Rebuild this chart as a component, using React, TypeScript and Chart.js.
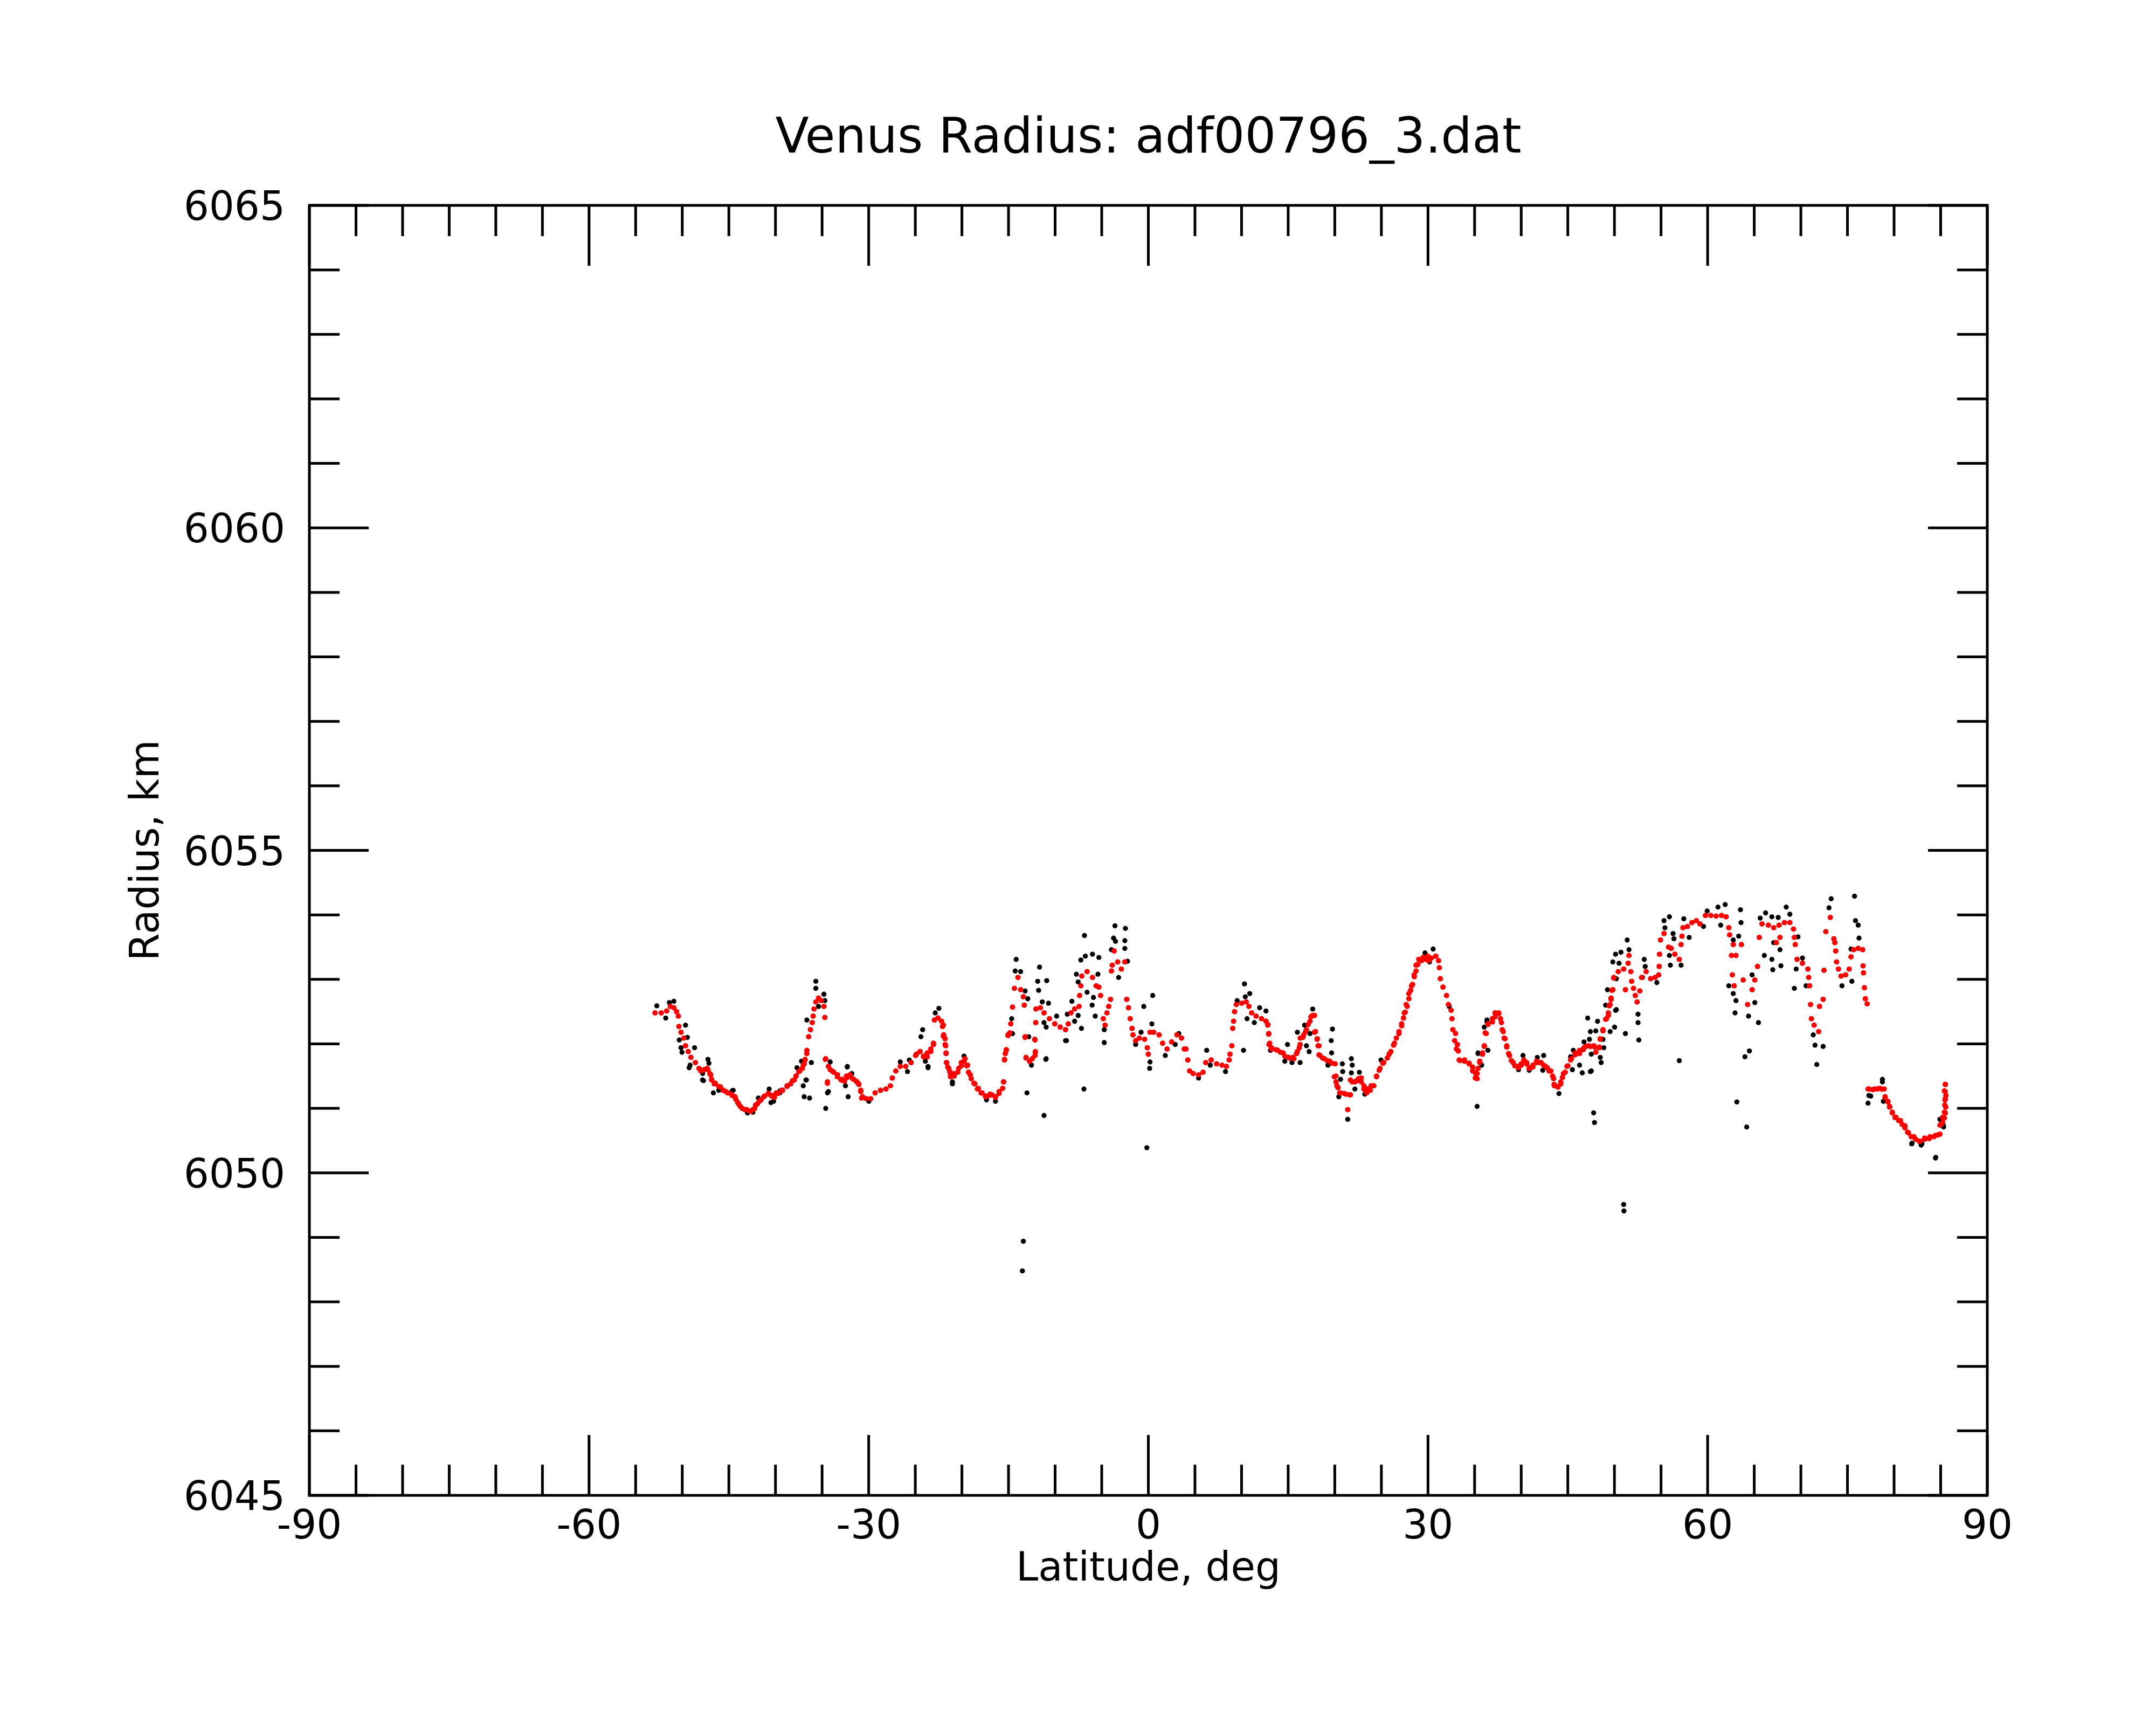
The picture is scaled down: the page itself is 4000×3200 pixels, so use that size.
import React, { useEffect, useRef } from 'react';
import { Chart, registerables } from 'chart.js';

Chart.register(...registerables);

const titleText = 'Venus Radius: adf00796_3.dat';
const xAxisLabel = 'Latitude, deg';
const yAxisLabel = 'Radius, km';
const xTickLabels = [-90, -60, -30, 0, 30, 60, 90];
const yTickLabels = [6045, 6050, 6055, 6060, 6065];

// smoothed profile (red), coarse reading over the whole track
const smoothLat = [
  -52.92, -52.25, -51.67, -51.28, -50.9, -50.61, -50.42, -50.36, -50.13, -49.84, -49.65, -49.36, -49.07, -48.59, -48.2,
  -47.81, -47.33, -47.04, -46.85, -46.46, -45.89, -45.31, -44.73, -44.34, -44.05, -43.77, -43.28, -42.8, -42.42, -42.13,
  -41.74, -41.26, -40.68, -40.3, -39.91, -39.33, -38.75, -38.17, -37.79, -37.4, -37.02, -36.83, -36.63, -36.44, -36.25,
  -36.05, -35.96, -35.86, -35.67, -35.38, -35.09, -34.8, -34.7, -34.61, -34.42, -34.32, -33.93, -33.35, -32.87, -32.39,
  -32.01, -31.62, -31.14, -30.85, -30.66, -30.27, -29.79, -29.31, -28.73, -28.15, -27.67, -27.47, -27.09, -26.61, -26.03,
  -25.45, -24.97,
  -24.49, -24.11, -23.72, -23.34, -23.05, -22.95, -22.57, -22.18, -21.99, -21.95, -21.8, -21.7, -21.66, -21.41, -21.22,
  -20.83, -20.35, -20.06, -19.67, -19.39, -19.1, -18.71, -18.33, -17.94, -17.46, -16.98, -16.4, -16.01, -15.53, -15.43,
  -15.24, -15.05, -14.76, -14.57, -14.37, -13.99, -13.7, -13.41, -13.31, -13.22, -13.12, -12.73, -12.16, -12.12, -12.19,
  -12.08, -12.06, -11.58, -11.19, -10.61, -10.04, -9.46, -8.88, -8.59, -8.3, -7.91, -7.43, -7.37, -7.24, -7.14,
  -6.57, -5.99, -5.6, -5.31, -5.12, -4.83, -4.64, -4.44, -4.25, -4.06, -3.96, -3.87, -3.67, -3.29, -2.9,
  -2.52, -2.32, -2.13, -1.94, -1.75, -1.65, -1.36, -0.97, -0.4, -0.11, -0.01, 0.18, 0.57, 1.15, 1.53,
  2.01, 2.5, 3.07, 3.56, 3.85,
  4.04, 4.23, 4.43, 4.81, 5.39, 5.87, 6.16, 6.74, 7.32, 7.9, 8.38, 8.67, 8.76, 8.96, 9.05,
  9.15, 9.25, 9.44, 10.02, 10.5, 10.79, 11.08, 11.56, 12.14, 12.62, 12.81, 12.91, 13.02, 13.2, 13.87,
  14.45, 15.03, 15.51, 15.99, 16.28, 16.67, 16.96, 17.34, 17.63, 17.82, 18.11, 18.31, 18.4, 18.88, 19.46,
  20.04, 20.12, 20.23, 20.62, 21.2, 21.39, 21.68, 21.87, 22.35, 22.84, 23.13, 23.51, 23.9, 24.48, 24.86,
  25.25, 25.83, 26.4, 26.89, 27.17, 27.46, 27.66, 27.95, 28.24, 28.52, 28.72, 29.01, 29.49, 29.97, 30.36,
  30.84, 31.13, 31.22, 31.32, 31.61, 31.99, 32.19, 32.48, 32.57, 32.67, 32.86, 33.05,
  33.35, 33.92, 34.41, 34.79, 35.08, 35.27, 35.56, 35.85, 36.04, 36.24, 36.43, 36.91, 37.2, 37.59, 37.78,
  37.97, 38.17, 38.45, 38.74, 39.13, 39.61, 40.0, 40.29, 40.58, 40.86, 41.25, 41.64, 42.12, 42.6, 42.99,
  43.37, 43.56, 43.95, 44.24, 44.53, 44.91, 45.3, 45.78, 46.26, 46.74, 47.23, 47.8, 48.38, 48.48, 48.77,
  49.15, 49.35, 49.54, 49.64, 49.83, 49.93, 50.41, 50.99, 51.18, 51.47, 51.56, 51.76, 51.85, 52.05, 52.24,
  52.43, 52.72, 52.91, 53.4, 53.88, 54.36, 54.75, 54.8, 54.84, 54.94, 55.32, 55.81, 56.09, 56.48, 56.96,
  57.15, 57.25, 57.35, 57.83, 58.31, 58.79, 59.18, 59.76, 60.34, 60.91, 61.49,
  61.98, 62.27, 62.36, 62.75, 63.62, 62.55, 63.04, 62.65, 62.84, 63.81, 64.29, 64.77, 65.06, 65.35, 65.54,
  65.83, 66.51, 67.09, 67.66, 68.24, 68.82, 69.21, 69.3, 67.76, 67.37, 69.4, 69.59, 70.17, 70.75, 70.84,
  70.94, 71.04, 71.13, 71.42, 71.91, 72.0, 72.39, 72.48, 72.68, 73.16, 73.54, 73.64, 73.74, 73.83, 74.03,
  74.31, 74.8, 75.18, 75.38, 75.66, 76.15, 76.63, 76.67, 76.72, 76.82, 76.92, 77.11,
  77.3, 77.88, 78.46, 78.94, 79.04, 79.33, 79.52, 79.81, 80.2, 80.68, 81.16, 81.54, 82.12, 82.7, 83.28,
  83.86, 84.44, 84.92, 85.01, 85.21, 85.4, 85.44, 85.5, 85.48, 85.5,
];

const smoothRadius = [
  6052.48, 6052.48, 6052.51, 6052.58, 6052.56, 6052.5, 6052.43, 6052.27, 6052.18, 6052.09, 6051.97, 6051.88, 6051.79, 6051.71, 6051.62,
  6051.59, 6051.62, 6051.54, 6051.45, 6051.39, 6051.33, 6051.26, 6051.22, 6051.18, 6051.09, 6051.03, 6050.98, 6050.96, 6050.98, 6051.05,
  6051.11, 6051.18, 6051.22, 6051.2, 6051.24, 6051.28, 6051.35, 6051.43, 6051.5, 6051.58, 6051.67, 6051.75, 6051.9, 6052.11, 6052.22,
  6052.33, 6052.43, 6052.54, 6052.65, 6052.71, 6052.67, 6052.58, 6052.41, 6051.77, 6051.41, 6051.65, 6051.58, 6051.52, 6051.45, 6051.5,
  6051.52, 6051.45, 6051.39, 6051.28, 6051.18, 6051.15, 6051.15, 6051.24, 6051.28, 6051.3, 6051.35, 6051.47, 6051.58, 6051.65, 6051.65,
  6051.71, 6051.82,
  6051.88, 6051.8, 6051.86, 6051.92, 6052.01, 6052.37, 6052.4, 6052.35, 6052.29, 6052.14, 6051.99, 6051.86, 6051.71, 6051.62, 6051.52,
  6051.54, 6051.62, 6051.71, 6051.77, 6051.67, 6051.52, 6051.39, 6051.3, 6051.24, 6051.19, 6051.22, 6051.18, 6051.26, 6051.41, 6051.75,
  6051.9, 6052.14, 6052.31, 6052.57, 6052.86, 6053.03, 6052.84, 6052.73, 6052.6, 6052.11, 6051.79, 6051.73, 6051.82, 6051.88, 6052.07,
  6052.33, 6052.54, 6052.56, 6052.48, 6052.39, 6052.31, 6052.26, 6052.22, 6052.31, 6052.48, 6052.54, 6052.58, 6052.75, 6052.9, 6053.05,
  6053.12, 6053.03, 6052.9, 6052.88, 6052.75, 6052.39, 6052.29, 6052.48, 6052.58, 6052.69, 6053.13, 6053.22, 6053.44, 6053.27, 6053.16,
  6053.27, 6052.69, 6052.56, 6052.39, 6052.24, 6052.14, 6052.05, 6052.09, 6052.07, 6051.94, 6051.84, 6052.18, 6052.18, 6052.14, 6052.01,
  6051.92, 6052.03, 6052.14, 6052.09, 6051.92,
  6051.92, 6051.75, 6051.58, 6051.54, 6051.52, 6051.56, 6051.71, 6051.75, 6051.69, 6051.67, 6051.65, 6051.75, 6051.84, 6051.97, 6052.24,
  6052.35, 6052.5, 6052.61, 6052.63, 6052.65, 6052.58, 6052.48, 6052.43, 6052.39, 6052.35, 6052.29, 6052.16, 6052.01, 6051.92, 6051.9,
  6051.86, 6051.79, 6051.79, 6051.88, 6051.99, 6052.14, 6052.22, 6052.35, 6052.44, 6052.18, 6052.07, 6051.97, 6051.82, 6051.77, 6051.73,
  6051.69, 6051.5, 6051.35, 6051.24, 6051.22, 6050.98, 6051.21, 6051.41, 6051.43, 6051.47, 6051.35, 6051.3, 6051.35, 6051.5, 6051.62,
  6051.71, 6051.84, 6052.01, 6052.16, 6052.31, 6052.48, 6052.61, 6052.78, 6052.9, 6053.07, 6053.22, 6053.31, 6053.34, 6053.36, 6053.33,
  6053.36, 6053.29, 6053.18, 6053.01, 6052.88, 6052.75, 6052.61, 6052.52, 6052.39, 6052.22, 6052.05, 6051.92,
  6051.75, 6051.75, 6051.69, 6051.58, 6051.47, 6051.54, 6051.71, 6051.86, 6051.97, 6052.16, 6052.31, 6052.39, 6052.48, 6052.48, 6052.39,
  6052.22, 6052.09, 6051.97, 6051.82, 6051.71, 6051.65, 6051.69, 6051.75, 6051.71, 6051.62, 6051.67, 6051.73, 6051.71, 6051.65, 6051.58,
  6051.5, 6051.35, 6051.33, 6051.41, 6051.54, 6051.65, 6051.75, 6051.86, 6051.9, 6051.94, 6051.97, 6051.97, 6051.94, 6052.07, 6052.22,
  6052.39, 6052.48, 6052.61, 6052.71, 6052.84, 6053.03, 6053.12, 6053.16, 6052.84, 6053.25, 6053.37, 6053.12, 6052.97, 6052.86, 6052.75,
  6052.65, 6052.82, 6053.03, 6053.12, 6053.01, 6053.03, 6053.07, 6053.2, 6053.39, 6053.61, 6053.71, 6053.5, 6053.48, 6053.39, 6053.31,
  6053.54, 6053.67, 6053.8, 6053.82, 6053.88, 6053.91, 6053.86, 6053.99, 6053.99, 6053.98, 6053.99,
  6053.97, 6053.8, 6053.69, 6053.54, 6053.54, 6053.37, 6053.37, 6053.07, 6052.9, 6052.99, 6052.61, 6052.84, 6052.99, 6053.2, 6053.65,
  6053.86, 6053.84, 6053.8, 6053.84, 6053.88, 6053.88, 6053.78, 6053.65, 6053.65, 6053.57, 6053.54, 6053.31, 6053.25, 6053.16, 6053.03,
  6052.9, 6052.61, 6052.39, 6052.29, 6052.19, 6052.58, 6052.69, 6053.14, 6053.74, 6053.96, 6053.63, 6053.57, 6053.44, 6053.27, 6053.16,
  6053.05, 6053.07, 6053.16, 6053.35, 6053.46, 6053.48, 6053.46, 6053.21, 6053.1, 6052.87, 6052.7, 6052.62,
  6051.3, 6051.3, 6051.31, 6051.3, 6051.18, 6051.11, 6051.03, 6050.94, 6050.86, 6050.81, 6050.73, 6050.62, 6050.56, 6050.49, 6050.54,
  6050.56, 6050.58, 6050.6, 6050.75, 6050.86, 6050.94, 6051.05, 6051.15, 6051.26, 6051.37,
];

// smoothed profile (red), finer reading of the quieter stretches
const smoothLatDetail = [
  -48.01, -47.62, -47.24, -46.95, -46.85, -46.56, -46.08, -45.6, -45.12, -44.64, -44.25, -43.96, -43.58, -43.09, -42.61,
  -42.23, -41.94, -41.55, -41.17, -40.78, -40.4, -40.11, -39.72, -39.24, -38.76, -38.37, -37.98, -37.79, -37.5, -37.12,
  -36.92, -36.83, -36.64, -34.65, -34.42, -34.13, -33.74, -33.36, -32.97, -32.59, -32.3, -32.01, -31.72, -31.33, -31.05,
  -30.85, -30.76,
  -24.88, -24.49, -24.11, -23.72, -23.34, -23.05, -22.08, -21.99, -21.8, -21.74, -21.7, -21.64, -21.51, -21.31, -21.22,
  -20.83, -20.45, -20.06, -19.77, -19.48, -19.29, -19.0, -18.61, -18.23, -17.84, -17.46, -17.07, -16.78, -16.4, -16.01,
  -15.63, -15.53, -15.43, -15.34, -15.24, -15.05, -14.86, -13.22, -12.16, -12.12, -13.12, -12.73, -12.45,
  12.82, 12.91, 12.95, 13.2, 13.68, 14.17, 14.65, 15.13, 15.61, 15.9, 16.19, 16.29, 16.58, 16.87, 17.15,
  17.44, 17.83, 17.93, 18.12, 18.21, 18.31, 18.7, 19.18, 19.66, 19.95, 20.14, 20.34, 20.53, 21.01, 21.59,
  21.68, 22.17, 22.55, 22.84, 23.13, 23.42, 23.81, 24.19, 24.48, 24.77, 25.15, 25.64, 26.02, 26.31, 26.6,
  26.89, 27.18, 27.37, 27.56, 27.76, 27.95, 28.14, 28.34, 28.53, 28.72, 28.91, 29.3, 29.78, 30.07,
  32.96, 33.15, 33.25, 33.44, 33.92, 34.41, 34.79, 35.08, 35.27, 35.37, 35.56, 35.85, 36.04, 36.14, 36.43,
  36.91, 37.2, 37.59, 37.88, 38.07, 38.26, 38.45, 38.65, 38.94, 39.32, 39.71, 40.0, 40.29, 40.58, 40.86,
  41.25, 41.64, 42.02, 42.41, 42.79, 43.18, 43.47, 43.53, 43.85, 44.24, 44.43, 44.72, 45.01, 45.39, 45.78,
  46.26, 46.65, 46.94, 47.42, 47.9, 48.38, 48.0, 48.48, 48.77, 49.06, 49.35, 49.44, 49.64, 49.73, 49.93,
  77.21, 77.69, 78.17, 78.66, 79.04, 79.33, 79.52, 79.81, 80.1, 80.49, 80.87, 81.16, 81.45, 81.84, 82.32,
  82.8, 83.28, 83.76, 84.25, 84.73, 84.92, 85.21, 85.4, 85.5, 85.54, 85.46, 85.56, 85.4, 85.5,
];

const smoothRadiusDetail = [
  6051.58, 6051.6, 6051.6, 6051.52, 6051.44, 6051.38, 6051.34, 6051.28, 6051.24, 6051.2, 6051.14, 6051.07, 6051.0, 6050.98, 6050.96,
  6051.0, 6051.07, 6051.13, 6051.19, 6051.23, 6051.19, 6051.17, 6051.23, 6051.28, 6051.34, 6051.38, 6051.44, 6051.5, 6051.57, 6051.62,
  6051.69, 6051.76, 6051.85, 6051.76, 6051.39, 6051.6, 6051.56, 6051.49, 6051.44, 6051.42, 6051.48, 6051.5, 6051.46, 6051.42, 6051.37,
  6051.26, 6051.16,
  6051.84, 6051.88, 6051.81, 6051.8, 6051.88, 6051.99, 6052.27, 6052.12, 6052.08, 6051.97, 6051.85, 6051.71, 6051.64, 6051.57, 6051.49,
  6051.5, 6051.56, 6051.66, 6051.73, 6051.66, 6051.56, 6051.46, 6051.38, 6051.31, 6051.24, 6051.18, 6051.2, 6051.21, 6051.17, 6051.23,
  6051.31, 6051.41, 6051.76, 6051.85, 6051.91, 6052.13, 6052.17, 6052.1, 6052.06, 6051.87, 6051.78, 6051.73, 6051.77,
  6052.3, 6052.15, 6051.99, 6051.94, 6051.91, 6051.87, 6051.81, 6051.78, 6051.77, 6051.85, 6051.94, 6052.09, 6052.1, 6052.19, 6052.3,
  6052.42, 6052.44, 6052.19, 6052.08, 6051.97, 6051.83, 6051.78, 6051.74, 6051.7, 6051.49, 6051.41, 6051.32, 6051.24, 6051.23, 6051.21,
  6051.44, 6051.41, 6051.46, 6051.41, 6051.3, 6051.24, 6051.28, 6051.35, 6051.49, 6051.59, 6051.7, 6051.78, 6051.88, 6051.98, 6052.09,
  6052.19, 6052.28, 6052.4, 6052.49, 6052.58, 6052.7, 6052.83, 6052.92, 6053.04, 6053.13, 6053.23, 6053.29, 6053.31, 6053.29,
  6052.16, 6051.99, 6051.89, 6051.74, 6051.73, 6051.7, 6051.64, 6051.55, 6051.46, 6051.62, 6051.73, 6051.84, 6051.96, 6052.17, 6052.3,
  6052.34, 6052.42, 6052.47, 6052.33, 6052.19, 6052.08, 6051.95, 6051.85, 6051.74, 6051.66, 6051.63, 6051.67, 6051.73, 6051.69, 6051.63,
  6051.64, 6051.71, 6051.71, 6051.67, 6051.63, 6051.58, 6051.46, 6051.37, 6051.34, 6051.38, 6051.48, 6051.56, 6051.66, 6051.77, 6051.83,
  6051.85, 6051.91, 6051.96, 6051.96, 6051.95, 6051.95, 6051.87, 6052.08, 6052.2, 6052.38, 6052.44, 6052.59, 6052.69, 6052.83, 6053.02,
  6051.3, 6051.29, 6051.3, 6051.3, 6051.17, 6051.1, 6051.02, 6050.93, 6050.86, 6050.81, 6050.75, 6050.7, 6050.63, 6050.56, 6050.52,
  6050.49, 6050.52, 6050.53, 6050.56, 6050.59, 6050.74, 6050.78, 6050.85, 6050.93, 6051.02, 6051.13, 6051.2, 6051.27, 6051.37,
];

// raw measurements (black)
const rawLat = [
  -52.73, -51.77, -51.38, -50.9, -49.65, -49.45, -50.32, -50.13, -50.03, -48.68, -49.16, -49.26, -47.24, -47.14, -47.81,
  -47.72, -46.66, -46.08, -44.54, -41.84, -40.68, -40.2, -39.52, -37.69, -37.21, -36.15, -36.73, -37.02, -36.92, -36.34,
  -36.63, -35.67, -35.67, -34.8, -34.7, -35.38, -34.32, -34.61, -34.13, -32.29, -32.2, -32.49, -31.81, -26.61, -25.64,
  -25.84, -42.99, -40.49, -29.98,
  -24.21, -24.4, -23.63, -23.92, -22.47, -22.86, -21.02, -19.77, -14.18, -14.28, -13.7, -13.22, -12.93, -14.66, -14.57,
  -12.83, -13.02, -12.54, -13.41, -13.51, -11.67, -11.87, -10.9, -11.77, -11.38, -10.71, -11.19, -10.96, -10.96, -11.19,
  -9.84, -8.78, -8.2, -8.69, -7.91, -7.53, -7.18, -6.85, -6.76, -5.99, -5.31, -7.24, -7.72, -7.53, -6.57,
  -5.89, -6.03, -5.7, -5.41, -4.73, -4.73, -3.58, -2.46, -3.73, -3.52, -2.52, -2.52, -3.96, -3.19, -2.23,
  -6.91, -0.49, 0.47, 0.38, 0.18, 0.14, -0.16, -1.36, -0.78, 1.82, 2.88, 3.27, -17.36, -16.4,
  10.31, 10.88, 10.4, 10.21, 9.53, 10.59, 11.37, 11.94, 12.62, 6.26, 6.64, 8.28, 13.1, 14.64, 15.41,
  16.28, 14.93, 15.99, 16.96, 17.25, 17.63, 16.76, 17.34, 19.75, 19.62, 19.66, 19.27, 20.81, 20.85, 20.62,
  21.78, 21.87, 21.78, 22.64, 22.16, 20.43, 21.39, 24.96, 29.68, 30.55, 30.16, 32.28, 5.39, 23.22,
  35.27, 35.37, 35.76, 36.43, 36.04, 36.33, 40.19, 40.86, 41.73, 42.41, 42.31, 44.05, 45.59, 45.3, 45.49,
  46.26, 46.55, 46.74, 47.13, 47.42, 47.32, 48.19, 48.0, 47.52, 47.42, 48.48, 48.58, 48.86, 48.77, 49.54,
  49.25, 49.06, 50.12, 50.7, 49.83, 50.5, 50.21, 50.21, 50.02, 51.18, 51.37, 51.56, 52.53, 52.53, 52.62,
  53.2, 53.3, 53.01, 54.55, 55.32, 55.9, 55.42, 56.29, 56.38, 55.9, 56.0, 57.15, 56.96, 47.77, 47.86,
  50.99, 51.02, 57.44, 58.02, 59.56, 59.95, 61.11, 61.4, 39.71,
  61.88, 63.52, 63.58, 63.33, 62.75, 62.27, 62.75, 63.04, 62.94, 64.39, 65.45, 65.06, 64.77, 64.0, 64.48,
  63.13, 64.19, 65.64, 66.22, 66.89, 67.57, 68.43, 68.82, 67.09, 67.76, 66.89, 66.99, 67.86, 66.08, 69.69,
  70.17, 69.5, 69.3, 70.56, 71.33, 71.52, 72.39, 71.71, 73.25, 73.02, 75.76, 75.86, 76.15, 76.24, 75.38,
  75.47, 74.41, 77.3, 77.21, 78.75, 78.85, 81.93, 82.99, 84.47, 85.3, 84.92,
];

const rawRadius = [
  6052.59, 6052.4, 6052.64, 6052.66, 6052.29, 6052.1, 6052.06, 6051.94, 6051.87, 6051.94, 6051.67, 6051.63, 6051.76, 6051.7, 6051.54,
  6051.43, 6051.24, 6051.28, 6051.28, 6051.16, 6051.3, 6051.11, 6051.27, 6051.63, 6051.73, 6051.71, 6051.44, 6051.35, 6051.18, 6051.16,
  6052.37, 6052.97, 6052.86, 6052.77, 6052.67, 6052.58, 6051.26, 6051.0, 6051.72, 6051.65, 6051.18, 6051.35, 6051.54, 6051.72, 6051.75,
  6051.57, 6050.93, 6051.09, 6051.11,
  6052.22, 6052.11, 6051.65, 6051.73, 6052.55, 6052.48, 6051.41, 6051.81, 6053.31, 6053.13, 6053.12, 6052.82, 6052.7, 6052.39, 6052.16,
  6052.11, 6051.24, 6051.67, 6048.94, 6048.48, 6053.19, 6052.97, 6052.98, 6052.83, 6052.65, 6052.63, 6052.33, 6052.26, 6051.77, 6050.89,
  6052.43, 6052.05, 6052.66, 6052.46, 6052.35, 6052.44, 6052.24, 6053.68, 6053.36, 6053.39, 6053.34, 6053.3, 6053.08, 6052.96, 6052.8,
  6052.72, 6052.6, 6052.43, 6053.08, 6052.22, 6052.02, 6053.83, 6053.79, 6053.64, 6053.59, 6053.6, 6053.48, 6053.46, 6053.03, 6053.28,
  6051.3, 6052.58, 6052.75, 6052.31, 6051.72, 6051.62, 6050.39, 6051.99, 6052.18, 6051.82, 6051.99, 6052.16, 6051.13, 6051.11,
  6052.93, 6052.78, 6052.73, 6051.9, 6052.67, 6052.39, 6052.33, 6052.56, 6052.51, 6051.9, 6051.67, 6051.57, 6051.9, 6051.73, 6051.71,
  6051.71, 6051.99, 6052.18, 6051.97, 6051.88, 6052.54, 6052.29, 6052.16, 6052.23, 6052.05, 6051.86, 6051.67, 6051.69, 6051.57, 6051.45,
  6051.77, 6051.67, 6051.55, 6051.56, 6051.3, 6051.18, 6050.83, 6051.75, 6053.41, 6053.47, 6053.27, 6052.58, 6051.47, 6051.22,
  6051.03, 6051.86, 6051.67, 6051.9, 6052.26, 6052.37, 6051.82, 6051.59, 6051.79, 6051.82, 6051.59, 6051.23, 6051.9, 6051.8, 6051.6,
  6051.67, 6051.55, 6052.03, 6052.4, 6052.19, 6052.07, 6052.35, 6052.2, 6051.84, 6051.57, 6051.79, 6051.71, 6051.94, 6052.07, 6052.19,
  6052.84, 6052.6, 6053.39, 6053.42, 6053.27, 6053.25, 6053.01, 6052.53, 6052.26, 6052.16, 6053.61, 6053.46, 6052.46, 6052.33, 6052.06,
  6053.31, 6053.2, 6053.03, 6052.95, 6053.91, 6053.97, 6053.8, 6053.71, 6053.63, 6053.37, 6053.22, 6053.22, 6051.74, 6050.93, 6050.78,
  6049.51, 6049.41, 6053.94, 6053.65, 6053.82, 6054.06, 6054.12, 6053.84, 6051.6,
  6054.16, 6054.08, 6053.88, 6053.67, 6053.61, 6052.9, 6052.78, 6052.67, 6052.48, 6052.43, 6052.33, 6052.64, 6053.07, 6051.8, 6051.89,
  6051.1, 6050.71, 6053.95, 6054.03, 6053.97, 6053.96, 6054.12, 6054.01, 6053.57, 6053.46, 6053.31, 6053.15, 6053.21, 6053.37, 6053.66,
  6053.33, 6053.16, 6052.86, 6052.9, 6052.14, 6051.98, 6051.96, 6051.68, 6054.25, 6054.11, 6054.29, 6053.91, 6053.84, 6053.64, 6053.47,
  6052.97, 6052.9, 6051.2, 6051.08, 6051.45, 6051.11, 6050.46, 6050.45, 6050.24, 6050.73, 6050.83,
];

// raw measurements (black) from the finer reading
const rawLatDetail = [
  -43.0, -42.42, -39.53, -47.82, -44.64, -36.68, -34.42, -32.3, -23.63, -21.02, -11.0, -8.88,
  35.37, 36.33, 47.52, 50.12, 77.5, 78.75, 81.89, 82.9, 84.44, 85.31, 85.02,
];
const rawRadiusDetail = [
  6050.93, 6050.94, 6051.24, 6051.44, 6051.27, 6051.44, 6051.24, 6051.64, 6051.63, 6051.38, 6051.76, 6052.05,
  6051.85, 6052.34, 6051.58, 6052.52, 6051.19, 6051.41, 6050.45, 6050.43, 6050.23, 6050.71, 6050.82,
];

const toPoints = (xs: number[], ys: number[]) => xs.map((x, i) => ({ x, y: ys[i] }));

const FONT = '"DejaVu Sans", "Liberation Sans", sans-serif';

// frame with inward ticks on all four sides, tick labels and titles
const framePlugin = {
  id: 'venusFrame',
  afterDraw(chart: Chart) {
    const { ctx, chartArea } = chart;
    const xs = chart.scales.x;
    const ys = chart.scales.y;
    const { left, right, top, bottom } = chartArea;
    ctx.save();
    ctx.strokeStyle = '#000';
    ctx.fillStyle = '#000';
    ctx.lineWidth = 5;
    ctx.lineCap = 'butt';

    ctx.beginPath();
    for (let v = -90; v <= 90; v += 5) {
      const px = xs.getPixelForValue(v);
      const len = v % 30 === 0 ? 112 : 57;
      ctx.moveTo(px, bottom);
      ctx.lineTo(px, bottom - len);
      ctx.moveTo(px, top);
      ctx.lineTo(px, top + len);
    }
    for (let v = 6045; v <= 6065; v += 1) {
      const py = ys.getPixelForValue(v);
      const len = (v - 6045) % 5 === 0 ? 110 : 56;
      ctx.moveTo(left, py);
      ctx.lineTo(left + len, py);
      ctx.moveTo(right, py);
      ctx.lineTo(right - len, py);
    }
    ctx.stroke();
    ctx.strokeRect(left, top, right - left, bottom - top);

    ctx.font = `74px ${FONT}`;
    ctx.textBaseline = 'alphabetic';
    ctx.textAlign = 'center';
    xTickLabels.forEach((v) => {
      ctx.fillText(String(v), xs.getPixelForValue(v), bottom + 80);
    });
    ctx.textAlign = 'right';
    yTickLabels.forEach((v) => {
      ctx.fillText(String(v), left - 45, ys.getPixelForValue(v) + 27);
    });

    ctx.textAlign = 'center';
    ctx.fillText(xAxisLabel, (left + right) / 2, bottom + 158);

    ctx.save();
    ctx.translate(left - 280, (top + bottom) / 2);
    ctx.rotate(-Math.PI / 2);
    ctx.fillText(yAxisLabel, 0, 0);
    ctx.restore();

    ctx.font = `91px ${FONT}`;
    ctx.fillText(titleText, (left + right) / 2, top - 98);
    ctx.restore();
  },
};

const VenusRadiusChart: React.FC = () => {
  const canvasRef = useRef<HTMLCanvasElement | null>(null);

  useEffect(() => {
    if (!canvasRef.current) return;
    const chart = new Chart(canvasRef.current, {
      type: 'scatter',
      data: {
        datasets: [
          {
            label: 'smoothed',
            data: [
              ...toPoints(smoothLat, smoothRadius),
              ...toPoints(smoothLatDetail, smoothRadiusDetail),
            ],
            backgroundColor: '#ff0000',
            borderWidth: 0,
            pointRadius: 5,
            order: 0,
          },
          {
            label: 'raw',
            data: [...toPoints(rawLat, rawRadius), ...toPoints(rawLatDetail, rawRadiusDetail)],
            backgroundColor: '#000000',
            borderWidth: 0,
            pointRadius: 4.7,
            order: 1,
          },
        ],
      },
      options: {
        animation: false,
        responsive: false,
        devicePixelRatio: 1,
        layout: { padding: { left: 574, top: 381, right: 313, bottom: 426 } },
        scales: {
          x: { type: 'linear', min: -90, max: 90, display: false },
          y: { type: 'linear', min: 6045, max: 6065, display: false },
        },
        plugins: {
          legend: { display: false },
          tooltip: { enabled: false },
          title: { display: false },
        },
      },
      plugins: [framePlugin],
    });
    return () => chart.destroy();
  }, []);

  return (
    <div style={{ position: 'absolute', left: 0, top: 0, width: 4000, height: 3200, background: '#fff' }}>
      <canvas ref={canvasRef} width={4000} height={3200} />
    </div>
  );
};

export default function App() {
  return <VenusRadiusChart />;
}
